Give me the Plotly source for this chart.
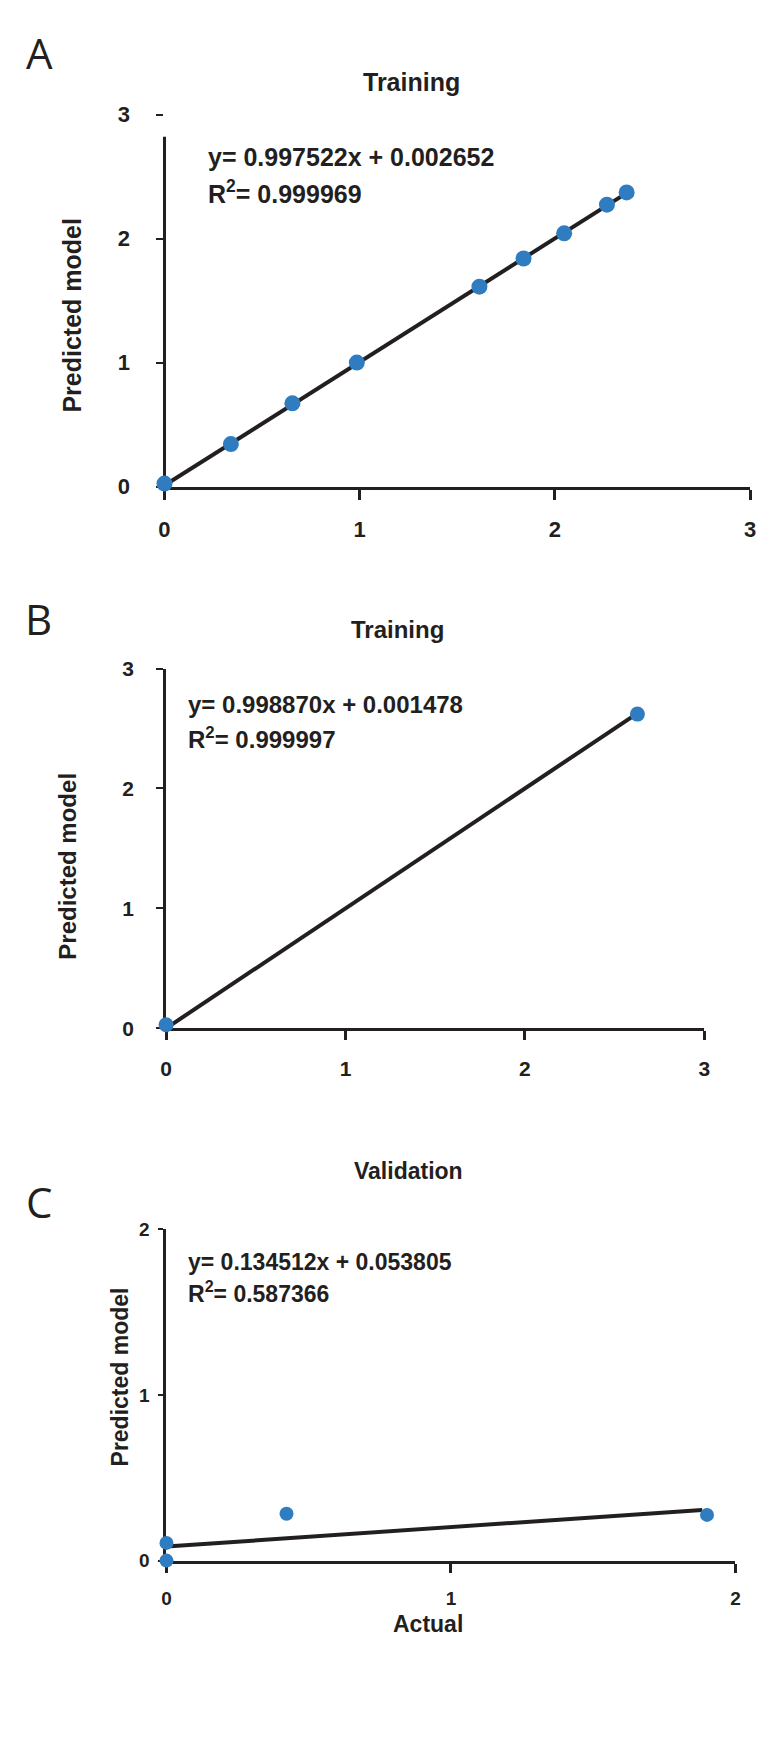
import plotly.graph_objects as go

W, H = 771, 1755

# ---------------- data ----------------
a_actual = [0.0, 0.34, 0.655, 0.985, 1.613, 1.839, 2.047, 2.266, 2.367]
a_pred = [0.025, 0.343, 0.672, 1.0, 1.612, 1.839, 2.042, 2.273, 2.372]
a_trend_x = [0.0, 2.36]
a_trend_y = [0.01, 2.36]

b_actual = [0.0, 2.627]
b_pred = [0.03, 2.62]
b_trend_x = [0.0, 2.62]
b_trend_y = [0.0, 2.62]

c_actual = [0.0, 0.0, 0.422, 1.90]
c_pred = [0.0, 0.107, 0.283, 0.276]
c_trend_x = [0.0, 1.883]
c_trend_y = [0.085, 0.306]

ticks_ab = [0, 1, 2, 3]
ticks_c = [0, 1, 2]
a_yaxis_top = 2.82

eq_a = ["y= 0.997522x + 0.002652", "R<sup>2</sup>= 0.999969"]
eq_b = ["y= 0.998870x + 0.001478", "R<sup>2</sup>= 0.999997"]
eq_c = ["y= 0.134512x + 0.053805", "R<sup>2</sup>= 0.587366"]

# ---------------- style ----------------
INK = "#231f20"
BLUE = "#2f7dc0"
FONT = "Liberation Sans"


def px(x):
    return x / W


def py(y):
    return 1 - y / H


fig = go.Figure()

panels = [
    dict(ax="", xs=a_actual, ys=a_pred, tx=a_trend_x, ty=a_trend_y, msize=16),
    dict(ax="2", xs=b_actual, ys=b_pred, tx=b_trend_x, ty=b_trend_y, msize=15),
    dict(ax="3", xs=c_actual, ys=c_pred, tx=c_trend_x, ty=c_trend_y, msize=14),
]
for p in panels:
    fig.add_trace(go.Scatter(x=p["tx"], y=p["ty"], mode="lines",
                             line=dict(color=INK, width=4),
                             xaxis="x" + p["ax"], yaxis="y" + p["ax"],
                             cliponaxis=False, showlegend=False, hoverinfo="skip"))
    fig.add_trace(go.Scatter(x=p["xs"], y=p["ys"], mode="markers",
                             marker=dict(color=BLUE, size=p["msize"], line=dict(width=0)),
                             xaxis="x" + p["ax"], yaxis="y" + p["ax"],
                             cliponaxis=False, showlegend=False))


def xaxis(dom, rng, vals, anchor, fsize, standoff, ticklen=9):
    return dict(domain=dom, range=rng, tickvals=vals, anchor=anchor,
                showline=True, linecolor=INK, linewidth=3,
                ticks="outside", ticklen=ticklen, tickwidth=3, tickcolor=INK,
                tickfont=dict(family=FONT, size=fsize, color=INK, weight="bold"),
                ticklabelstandoff=standoff,
                showgrid=False, zeroline=False, layer="below traces", fixedrange=True)


def yaxis(dom, rng, vals, anchor, fsize, standoff, showline=True, ticklen=7):
    return dict(domain=dom, range=rng, tickvals=vals, anchor=anchor,
                showline=showline, linecolor=INK, linewidth=3,
                ticks="outside", ticklen=ticklen, tickwidth=2, tickcolor=INK,
                tickfont=dict(family=FONT, size=fsize, color=INK, weight="bold"),
                ticklabelstandoff=standoff,
                showgrid=False, zeroline=False, layer="below traces", fixedrange=True)


A_X = (161, 756)
A_Y = (481.5, 104)

fig.update_layout(
    width=W, height=H, autosize=False,
    margin=dict(l=0, r=0, t=0, b=0),
    paper_bgcolor="white", plot_bgcolor="white",
    showlegend=False,
    xaxis=xaxis([px(A_X[0]), px(A_X[1])], [0, 3], ticks_ab, "y", 22, 11, ticklen=10),
    yaxis=yaxis([py(A_Y[0]), py(A_Y[1])], [0, 3], ticks_ab, "x", 22, 22, showline=False),
    xaxis2=xaxis([px(162.6), px(709.4)], [0, 3], ticks_ab, "y2", 21, 10),
    yaxis2=yaxis([py(1031), py(666)], [0, 3], ticks_ab, "x2", 21, 18),
    xaxis3=xaxis([px(163), px(741)], [0, 2], ticks_c, "y3", 19, 10),
    yaxis3=yaxis([py(1571), py(1235)], [0, 2], ticks_c, "x3", 19, 5, ticklen=5),
)

# panel A y-axis line stops short of the top tick
fig.add_shape(type="line", xref="paper", yref="y", x0=px(A_X[0]), x1=px(A_X[0]),
              y0=0, y1=a_yaxis_top, line=dict(color=INK, width=3), layer="below")

annos = []


def text(x, y, s, size, bold=True, family=FONT, xanchor="center", angle=0):
    annos.append(dict(x=px(x), y=py(y), xref="paper", yref="paper", text=s,
                      showarrow=False, xanchor=xanchor, yanchor="middle",
                      textangle=angle,
                      font=dict(family=family, size=size, color=INK,
                                weight="bold" if bold else "normal")))


# panel letters
text(34, 41, "A", 42, bold=False, family="Open Sans")
text(33, 615, "B", 42, bold=False, family="Open Sans")
text(34, 1207, "C", 42, bold=False, family="Open Sans")

# titles
text(412, 71, "Training", 25)
text(398, 626, "Training", 24)
text(409, 1176, "Validation", 23)

# y-axis titles
text(67, 307, "Predicted model", 25, angle=-90)
text(63, 867, "Predicted model", 24, angle=-90)
text(116, 1385, "Predicted model", 23, angle=-90)

# x-axis title (panel C)
text(429, 1635, "Actual", 23)

# equations
text(203, 147, eq_a[0], 25, xanchor="left")
text(203, 183, eq_a[1], 25, xanchor="left")
text(183, 703, eq_b[0], 24, xanchor="left")
text(183, 736, eq_b[1], 24, xanchor="left")
text(183, 1268, eq_c[0], 23, xanchor="left")
text(183, 1299, eq_c[1], 23, xanchor="left")

fig.update_layout(annotations=annos)

POST = (
    "document.documentElement.style.margin='0';"
    "document.documentElement.style.padding='0';"
    "document.documentElement.style.overflow='hidden';"
    "document.body.style.margin='0';"
    "document.body.style.padding='0';"
    "document.body.style.overflow='hidden';"
)

fig.write_html("out.html", post_script=POST, config={"displayModeBar": False})
